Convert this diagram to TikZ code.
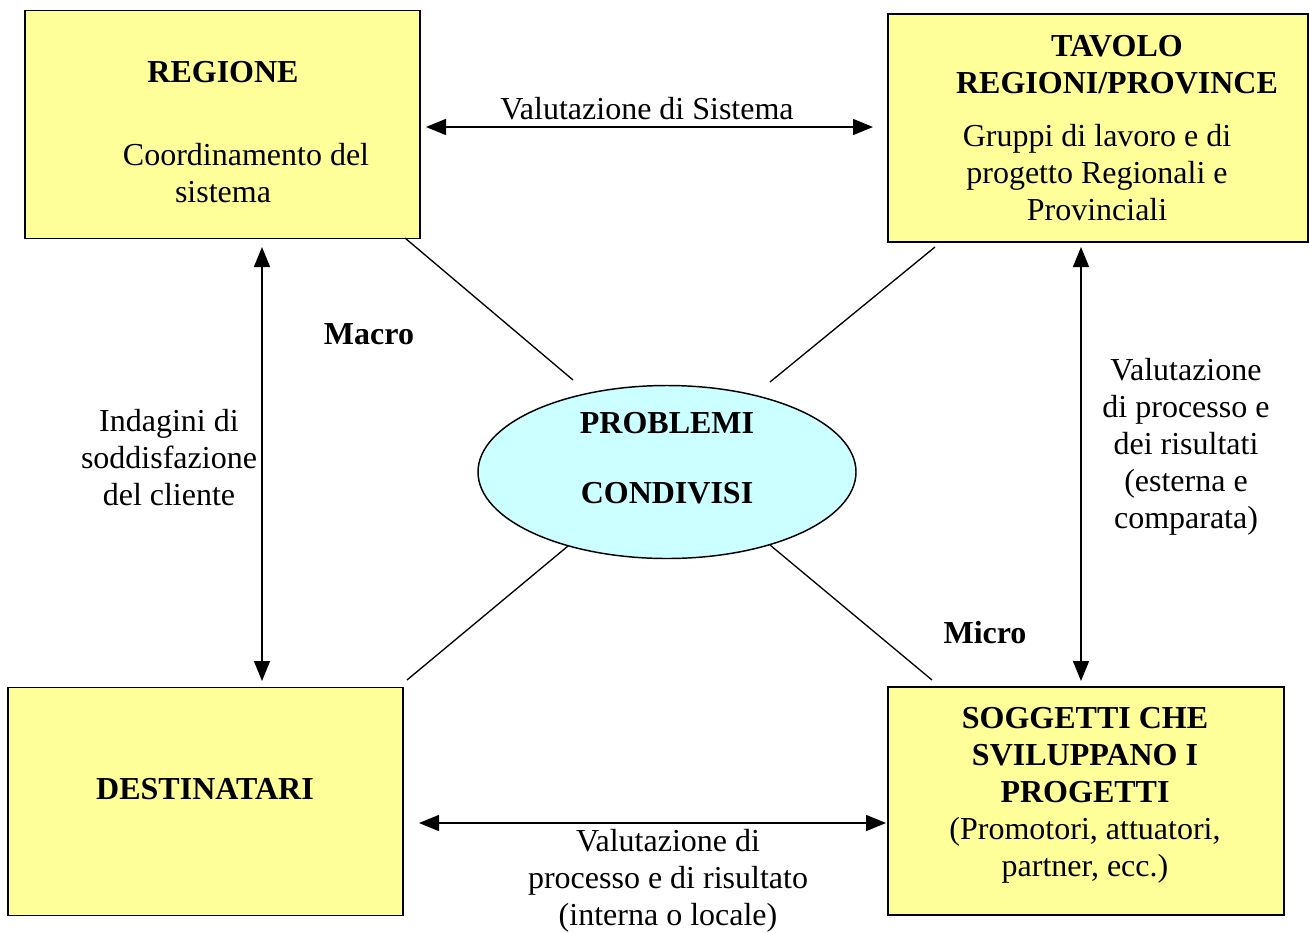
\documentclass[tikz,border=0pt]{standalone}
\usepackage{fontspec}
\setmainfont{Liberation Serif}
\usetikzlibrary{shapes.geometric,arrows.meta}
\definecolor{boxyellow}{HTML}{FFFF99}
\definecolor{ellcyan}{HTML}{CCFFFF}
\begin{document}
\begin{tikzpicture}[x=0.75pt,y=-0.75pt,
  every node/.style={font=\fontsize{24}{27.75}\selectfont, inner sep=0pt},
  box/.style={draw=black, fill=boxyellow, line width=1.4pt, minimum width=#1, minimum height=171pt},
  txt/.style={align=center},
  bold/.style={align=center, font=\fontsize{24}{27.75}\selectfont\bfseries},
  conn/.style={line width=1pt},
  dbl/.style={line width=1.1pt, {Triangle[length=15pt,width=12pt]}-{Triangle[length=15pt,width=12pt]}}]
\useasboundingbox (0,0) rectangle (1309,932);
% boxes
\node[box=296.25pt] (reg) at (222.5,124.5) {};
\node[box=315pt] (tav) at (1098,128) {};
\node[box=296.25pt] (dest) at (205.5,801.5) {};
\node[box=297pt] (sog) at (1086,801) {};
\node[draw=black, fill=ellcyan, line width=1.1pt, ellipse, minimum width=283.5pt, minimum height=129.75pt] (ell) at (667,472) {};
% box texts
\node[bold] (regT) at (223,72) {REGIONE};
\node[txt] (regA) at (246,155) {Coordinamento del};
\node[txt] (regB) at (223,192) {sistema};
\node[bold] (tavT) at (1117,65) {TAVOLO\\REGIONI/PROVINCE};
\node[txt] (tavA) at (1097,173) {Gruppi di lavoro e di\\progetto Regionali e\\Provinciali};
\node[bold] (destT) at (205,789) {DESTINATARI};
\node[txt] (sogT) at (1085,795) {\bfseries SOGGETTI CHE\\\bfseries SVILUPPANO I\\\bfseries PROGETTI\\(Promotori, attuatori,\\partner, ecc.)};
\node[bold] (p1) at (667,423) {PROBLEMI};
\node[bold] (p2) at (667,493) {CONDIVISI};
% connector end points
\coordinate (l1a) at (405,238); \coordinate (l1b) at (573,380);
\coordinate (l2a) at (935,247); \coordinate (l2b) at (770,382);
\coordinate (l3a) at (407,680); \coordinate (l3b) at (568,546);
\coordinate (l4a) at (932,680); \coordinate (l4b) at (770,545);
\coordinate (hTa) at (426,127); \coordinate (hTb) at (873,127);
\coordinate (hBa) at (419,823); \coordinate (hBb) at (886,823);
\coordinate (vLa) at (262,247); \coordinate (vLb) at (262,681);
\coordinate (vRa) at (1081,247); \coordinate (vRb) at (1081,681);
% lines to ellipse
\draw[conn] (l1a) -- (l1b);
\draw[conn] (l2a) -- (l2b);
\draw[conn] (l3a) -- (l3b);
\draw[conn] (l4a) -- (l4b);
% arrows
\draw[dbl] (hTa) -- (hTb);
\draw[dbl] (hBa) -- (hBb);
\draw[dbl] (vLa) -- (vLb);
\draw[dbl] (vRa) -- (vRb);
% labels
\node[txt] (lab1) at (647,109) {Valutazione di Sistema};
\node[bold] (macro) at (369,334) {Macro};
\node[bold] (micro) at (985,633) {Micro};
\node[txt] (lab2) at (169,458) {Indagini di\\soddisfazione\\del cliente};
\node[txt] (lab3) at (1186,447) {Valutazione\\di processo e\\dei risultati\\(esterna e\\comparata)};
\node[txt] (lab4) at (668,881) {Valutazione di\\processo e di risultato\\(interna o locale)};
\end{tikzpicture}
\end{document}
